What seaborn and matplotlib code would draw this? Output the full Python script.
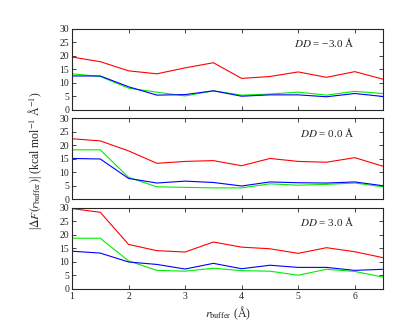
import numpy as np
import pandas as pd
import seaborn as sns
import matplotlib
matplotlib.use("Agg")
import matplotlib.pyplot as plt

r_buffer = [1.0, 1.5, 2.0, 2.5, 3.0, 3.5, 4.0, 4.5, 5.0, 5.5, 6.0, 6.5]

dd_labels = ["$DD$ = \u22123.0 \u00c5", "$DD$ = 0.0 \u00c5", "$DD$ = 3.0 \u00c5"]

# DD = -3.0
red_m3 = [19.6, 17.9, 14.5, 13.4, 15.6, 17.5, 11.7, 12.4, 14.1, 12.1, 14.2, 11.4]
green_m3 = [13.4, 12.4, 8.1, 6.6, 5.2, 7.1, 5.5, 5.9, 6.6, 5.5, 6.9, 6.1]
blue_m3 = [12.6, 12.6, 8.6, 5.5, 5.7, 7.1, 5.1, 5.6, 5.6, 4.9, 6.1, 5.0]

# DD = 0.0
red_0 = [22.5, 21.7, 18.0, 13.4, 14.1, 14.4, 12.5, 15.2, 14.1, 13.8, 15.5, 12.3]
green_0 = [18.4, 18.4, 8.2, 4.7, 4.5, 4.3, 4.3, 5.8, 5.3, 5.6, 6.1, 4.7]
blue_0 = [15.2, 15.0, 7.8, 6.1, 6.8, 6.3, 5.0, 6.5, 6.2, 6.1, 6.5, 5.1]

# DD = 3.0
red_p3 = [29.8, 28.4, 16.5, 14.2, 13.7, 17.4, 15.5, 14.9, 13.2, 15.3, 13.8, 11.6]
green_p3 = [18.8, 18.8, 10.4, 6.9, 6.6, 7.7, 6.8, 6.6, 5.1, 7.3, 6.5, 4.4]
blue_p3 = [14.0, 13.3, 10.0, 9.1, 7.4, 9.5, 7.5, 8.8, 8.0, 8.0, 6.9, 7.3]

panels = [
    (red_m3, green_m3, blue_m3),
    (red_0, green_0, blue_0),
    (red_p3, green_p3, blue_p3),
]
series_names = ["red", "green", "blue"]
palette = {"red": "#ff0000", "green": "#00ee00", "blue": "#0000ff"}

sns.set_style("ticks")
plt.rcParams["font.family"] = ["Liberation Serif", "DejaVu Serif"]
plt.rcParams["mathtext.fontset"] = "stix"

fig, axes = plt.subplots(3, 1, figsize=(4.15, 3.21), dpi=100, sharex=True)
fig.subplots_adjust(left=0.1735, right=0.923, top=0.9097, bottom=0.0997, hspace=0.105)

for ax, vals, lab in zip(axes, panels, dd_labels):
    rows = []
    for name, v in zip(series_names, vals):
        for x, y in zip(r_buffer, v):
            rows.append({"r": x, "val": y, "series": name})
    df = pd.DataFrame(rows)
    sns.lineplot(data=df, x="r", y="val", hue="series", palette=palette,
                 ax=ax, legend=False, linewidth=0.8, sort=False)
    ax.set_xlim(1, 6.5)
    ax.set_ylim(0, 30)
    ax.set_yticks([0, 5, 10, 15, 20, 25, 30])
    ax.set_xticks([1, 2, 3, 4, 5, 6])
    ax.tick_params(direction="in", top=True, right=True, length=3, width=0.6,
                   labelsize=7, pad=2)
    for s in ax.spines.values():
        s.set_linewidth(0.8)
    ax.set_xlabel("")
    ax.set_ylabel("")
    ax.text(0.91, 0.83, lab, transform=ax.transAxes, ha="right", va="center",
            fontsize=8)

axes[2].set_xlabel("$r_{\\mathrm{buffer}}$ (\u00c5)", fontsize=8.5, labelpad=3)
fig.text(0.085, 0.5,
         "|$\\Delta F(r_{\\mathrm{buffer}})$| (kcal mol$^{-1}$ \u00c5$^{-1}$)",
         rotation=90, ha="center", va="center", fontsize=8.5)

fig.savefig("out.png", dpi=100)
